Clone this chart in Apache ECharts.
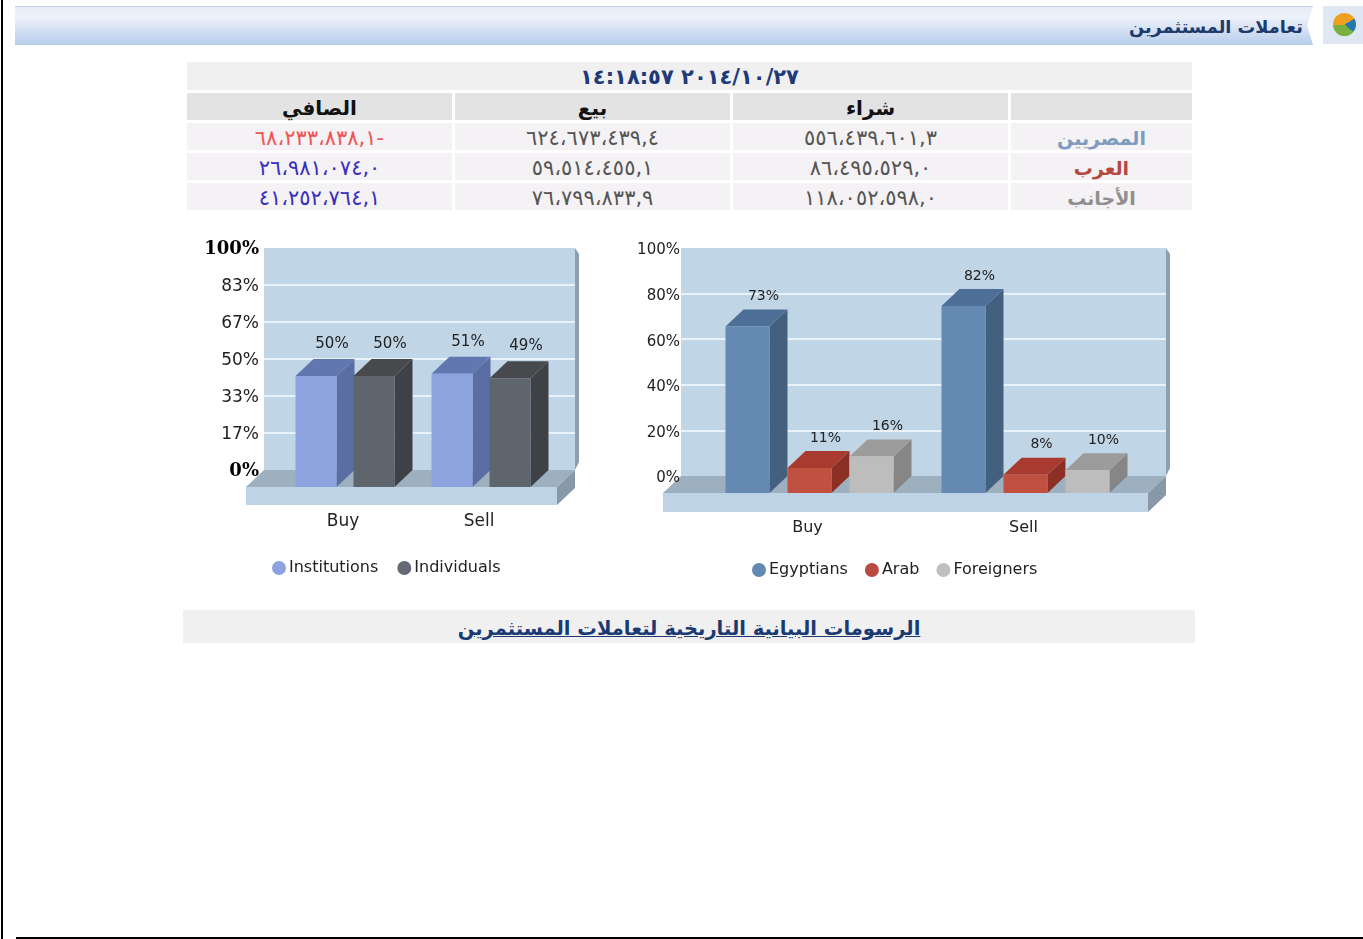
<!DOCTYPE html>
<html lang="ar">
<head>
<meta charset="utf-8">
<title>تعاملات المستثمرين</title>
<script src="https://cdn.jsdelivr.net/npm/echarts@6/dist/echarts.min.js"></script>
<style>
html,body{margin:0;padding:0;background:#fff;width:1363px;height:939px;overflow:hidden;font-family:"DejaVu Sans",sans-serif}
.abs{position:absolute}
#leftLine{left:1px;top:0;width:2px;height:939px;background:#000}
#bottomLine{left:16px;top:937px;width:1347px;height:2px;background:#000}
#headBar{left:15px;top:6px;width:1298px;height:39px;background:linear-gradient(#e6edf9,#eef2fb 25%,#b7cdec);border-top:1px solid #c5cfe4;box-sizing:border-box;clip-path:polygon(0 0,100% 0,99.55% 50%,100% 100%,0 100%)}
#headTitle{right:60px;top:15px;font-size:17.7px;line-height:24px;font-weight:bold;color:#1d3a6b;direction:rtl}
#iconBox{left:1323px;top:6px;width:40px;height:38px;background:#dfe7f4}
#icon{left:1333px;top:13px;width:23px;height:23px;border-radius:50%;background:conic-gradient(#f0a020 0 60deg,#2878b0 60deg 130deg,#7ab040 130deg 270deg,#f0a020 270deg)}
.cell{position:absolute;text-align:center;box-sizing:border-box;white-space:nowrap}
#linkBar{left:183px;top:610px;width:1012px;height:33px;background:#f0f0f0;text-align:center;font-size:19.5px;line-height:37px;font-weight:bold;direction:rtl}
#linkBar a{color:#1c3a72;text-decoration:underline}
#main{position:absolute;left:0;top:0;width:1363px;height:939px}
</style>
</head>
<body>
<div id="leftLine" class="abs"></div>
<div id="bottomLine" class="abs"></div>
<div id="headBar" class="abs"></div>
<div id="headTitle" class="abs">تعاملات المستثمرين</div>
<div id="iconBox" class="abs"></div>
<div id="icon" class="abs"></div>
<div id="tbl"></div>
<div id="linkBar" class="abs"><a href="#">الرسومات البيانية التاريخية لتعاملات المستثمرين</a></div>
<div id="main"></div>
<script>
// table
const stamp = '٢٠١٤/١٠/٢٧ ١٤:١٨:٥٧'
const headers = ['شراء', 'بيع', 'الصافي']
const rowNames = ['المصريين', 'العرب', 'الأجانب']
const buyText = ['٥٥٦،٤٣٩،٦٠١,٣', '٨٦،٤٩٥،٥٢٩,٠', '١١٨،٠٥٢،٥٩٨,٠']
const sellText = ['٦٢٤،٦٧٣،٤٣٩,٤', '٥٩،٥١٤،٤٥٥,١', '٧٦،٧٩٩،٨٣٣,٩']
const netText = ['٦٨،٢٣٣،٨٣٨,١-', '٢٦،٩٨١،٠٧٤,٠', '٤١،٢٥٢،٧٦٤,١']

// charts
const categories = ['Buy', 'Sell']
const institutions = [50, 51]
const individuals = [50, 49]
const egyptians = [73, 82]
const arab = [11, 8]
const foreigners = [16, 10]
const leftTicks = ['0%', '17%', '33%', '50%', '67%', '83%', '100%']
const rightTicks = ['0%', '20%', '40%', '60%', '80%', '100%']

function buildTable(){
    const tbl = document.getElementById('tbl')
    const cols = [[1011, 181], [733, 275], [455, 275], [187, 265]]
    const rowTops = [123, 153, 183]
    const nameColors = ['#7f9bc0', '#b5493f', '#8f8f8f']
    const netColors = ['#ee5555', '#3a30c0', '#3a30c0']
    const add = (x, y, w, h, bg, txt, css) => {
        const d = document.createElement('div'); d.className = 'cell'
        d.style.cssText = `left:${x}px;top:${y}px;width:${w}px;height:${h}px;line-height:${h + 3}px;background:${bg};${css}`
        d.textContent = txt; tbl.appendChild(d)
    }
    add(187, 62, 1005, 28, '#f0f0f0', stamp, 'font-size:21px;font-weight:bold;color:#1f3a78;direction:ltr')
    add(cols[0][0], 93, cols[0][1], 27, '#e3e3e3', '', '')
    headers.forEach((h, i) => add(cols[i + 1][0], 93, cols[i + 1][1], 27, '#e3e3e3', h, 'font-size:20px;font-weight:bold;color:#111;direction:rtl'))
    rowTops.forEach((y, r) => {
        const num = 'font-size:21px;direction:ltr;color:'
        add(cols[0][0], y, cols[0][1], 27, '#f4f2f4', rowNames[r], `font-size:19px;font-weight:bold;direction:rtl;color:${nameColors[r]}`)
        add(cols[1][0], y, cols[1][1], 27, '#f4f2f4', buyText[r], num + '#555')
        add(cols[2][0], y, cols[2][1], 27, '#f4f2f4', sellText[r], num + '#555')
        add(cols[3][0], y, cols[3][1], 27, '#f4f2f4', netText[r], num + netColors[r])
    })
}

// wall = back plane, bars sit on a front plane shifted by the depth
function addChart(opt, c){
    const wallX = opt.xAxis.length, wallY = opt.yAxis.length
    const g = opt.grid.length
    opt.grid.push({left: c.wall[0], top: c.wall[1], width: c.wall[2], height: c.wall[3], show: true, backgroundColor: '#c0d5e6', borderWidth: 0})
    opt.grid.push({left: c.front[0], top: c.wall[1] + c.dy, width: c.front[1], height: c.wall[3]})
    opt.xAxis.push({gridIndex: g, type: 'category', data: c.categories, show: false})
    opt.xAxis.push({gridIndex: g + 1, type: 'category', data: c.categories, axisLine: {show: false}, axisTick: {show: false},
        axisLabel: {margin: c.catMargin, fontFamily: 'DejaVu Sans', fontSize: c.catSize, color: '#222'}})
    const interval = 100 / (c.ticks.length - 1)
    opt.yAxis.push({gridIndex: g, type: 'value', min: 0, max: 100, interval, z: 0, axisLine: {show: false}, axisTick: {show: false}, axisLabel: {show: false},
        splitLine: {show: true, showMinLine: false, showMaxLine: false, lineStyle: {color: '#e9f2f9', width: 2}}})
    opt.yAxis.push({gridIndex: g, type: 'value', position: 'left', min: 0, max: 100, interval, z: 5, axisLine: {show: false}, axisTick: {show: false}, splitLine: {show: false},
        axisLabel: {margin: c.tickMargin, padding: [c.tickPad, 0, 0, 0], fontFamily: 'DejaVu Sans', fontSize: c.tickSize, color: '#222',
            formatter: (v, i) => (c.boldEnds && (i === 0 || i === c.ticks.length - 1)) ? `{b|${c.ticks[i]}}` : c.ticks[i],
            rich: {b: {fontFamily: 'DejaVu Serif', fontWeight: 'bold', fontSize: c.tickSize + 1, color: '#000'}}}})
    opt.yAxis.push({gridIndex: g + 1, type: 'value', min: 0, max: 100, show: false})

    // floor, slab and the wall's side strip
    opt.series.push({type: 'custom', xAxisIndex: wallX, yAxisIndex: wallY, z: 1, silent: true, data: [0],
        renderItem: params => {
            const {x, y, width: w, height: h} = params.coordSys
            const b = y + h, dx = c.dx, dy = c.dy, sl = c.slab
            return {type: 'group', children: [
                {type: 'polygon', shape: {points: [[x + w, y], [x + w + 4, y + 6], [x + w + 4, b - 8], [x + w, b]]}, style: {fill: '#8d9fb0'}},
                {type: 'polygon', shape: {points: [[x, b], [x + w, b], [x + w - dx, b + dy], [x - dx, b + dy]]}, style: {fill: '#9db0c0'}},
                {type: 'rect', shape: {x: x - dx, y: b + dy, width: w, height: sl}, style: {fill: '#bed4e6'}},
                {type: 'polygon', shape: {points: [[x + w - dx, b + dy], [x + w, b], [x + w, b + sl], [x + w - dx, b + dy + sl]]}, style: {fill: '#8898a8'}}
            ]}
        }})

    c.series.forEach((s, si) => {
        opt.series.push({type: 'custom', name: s.name, xAxisIndex: wallX + 1, yAxisIndex: wallY + 2, z: 2 + si, silent: true,
            itemStyle: {color: s.legend},
            encode: {x: 0, y: 1},
            data: s.values.map((v, i) => [i, v]),
            renderItem: (params, api) => {
                const val = api.value(1)
                const base = api.coord([api.value(0), 0]), top = api.coord([api.value(0), val])
                const cx = base[0] + (si - (c.series.length - 1) / 2) * c.step + c.shift
                const l = cx - c.barW / 2, r = cx + c.barW / 2, t = top[1], bt = base[1], dx = c.dx, dy = c.dy
                return {type: 'group', children: [
                    {type: 'polygon', shape: {points: [[r, t], [r + dx, t - dy], [r + dx, bt - dy], [r, bt]]}, style: {fill: s.side}},
                    {type: 'polygon', shape: {points: [[l, t], [l + dx, t - dy], [r + dx, t - dy], [r, t]]}, style: {fill: s.top}},
                    {type: 'rect', shape: {x: l, y: t, width: c.barW, height: bt - t}, style: {fill: s.front}},
                    {type: 'text', style: {text: val + '%', x: cx + dx - 2, y: t - dy - c.labelGap, align: 'center', verticalAlign: 'middle',
                        font: `${c.labelSize}px "DejaVu Sans"`, fill: '#222'}}
                ]}
            }})
    })
    opt.legend.push(Object.assign({data: c.series.map(s => s.name), icon: 'circle', itemWidth: 14, itemHeight: 14, orient: 'horizontal',
        textStyle: {fontFamily: 'DejaVu Sans', fontSize: c.legendSize, color: '#222', padding: [0, 0, 0, -2]}}, c.legend))
}

document.addEventListener('DOMContentLoaded', () => {
    buildTable()
    const myChart = echarts.init(document.getElementById('main'))
    const opt = {backgroundColor: 'transparent', animation: false, grid: [], xAxis: [], yAxis: [], legend: [], series: []}
    addChart(opt, {
        wall: [264, 248, 311, 222], front: [275, 272], dx: 18, dy: 17, slab: 18,
        categories, ticks: leftTicks, boldEnds: true, catMargin: 26, catSize: 17, tickMargin: 5, tickSize: 17, tickPad: 3,
        barW: 41, step: 58, shift: 2, labelGap: 15, labelSize: 15, legendSize: 16,
        legend: {left: 267, top: 555, itemGap: 19},
        series: [
            {name: 'Institutions', values: institutions, front: '#8ca3e0', top: '#6077b0', side: '#5a6ea3', legend: '#8ca3e0'},
            {name: 'Individuals', values: individuals, front: '#5f656c', top: '#47494d', side: '#3e4246', legend: '#666a78'}
        ]
    })
    addChart(opt, {
        wall: [681, 248, 485, 228], front: [699.5, 432], dx: 18, dy: 17, slab: 19,
        categories, ticks: rightTicks, boldEnds: false, catMargin: 27, catSize: 16, tickMargin: 1, tickSize: 15, tickPad: 5,
        barW: 44, step: 62, shift: 2, labelGap: 13, labelSize: 14, legendSize: 16,
        legend: {left: 747, top: 557, itemGap: 17},
        series: [
            {name: 'Egyptians', values: egyptians, front: '#6489b2', top: '#4e7098', side: '#44607f', legend: '#6189b4'},
            {name: 'Arab', values: arab, front: '#c05040', top: '#a83a30', side: '#8c3026', legend: '#b84a40'},
            {name: 'Foreigners', values: foreigners, front: '#bdbdbd', top: '#9c9c9c', side: '#868686', legend: '#c0c0c0'}
        ]
    })
    myChart.setOption(opt)
    window.addEventListener('resize', () => myChart.resize())
})
</script>
</body>
</html>
